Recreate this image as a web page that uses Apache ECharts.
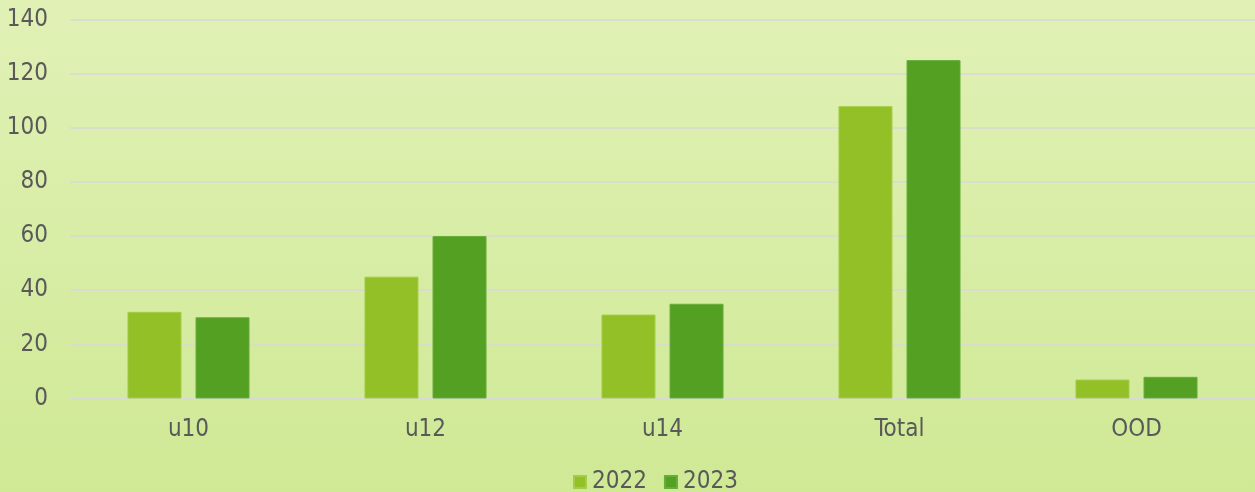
<!DOCTYPE html>
<html>
<head>
<meta charset="utf-8">
<script src="https://cdn.jsdelivr.net/npm/echarts@6/dist/echarts.min.js"></script>
<style>
  html, body { margin: 0; padding: 0; }
  #main { width: 1255px; height: 492px; }
</style>
</head>
<body>
<div id="main"></div>
<script>
const categories = ["u10", "u12", "u14", "Total", "OOD"];
const values2022 = [32, 45, 31, 108, 7];
const values2023 = [30, 60, 35, 125, 8];
const seriesNames = ["2022", "2023"];
const colors = ["#92c026", "#54a022"];

const font = "'DejaVu Sans Condensed', 'DejaVu Sans', sans-serif";
const textColor = "#595959";

let myChart = echarts.init(document.getElementById('main'));

let option = {
    backgroundColor: new echarts.graphic.LinearGradient(0, 0, 0, 1, [
        {offset: 0, color: "#e1f1b6"},
        {offset: 1, color: "#cfe995"}
    ]),
    textStyle: {fontFamily: font},
    grid: {left: 70, right: 0, top: 19.5, bottom: 93.5, containLabel: false},
    legend: {
        data: seriesNames,
        bottom: -7,
        left: 568,
        itemWidth: 12,
        itemHeight: 12,
        itemGap: 17,
        icon: 'rect',
        textStyle: {fontFamily: font, fontSize: 24, color: textColor, padding: [0, 0, 0, 1]}
    },
    xAxis: {
        type: 'category',
        data: categories,
        axisLine: {show: true, lineStyle: {color: "#d9d9d9", width: 1.5}},
        axisTick: {show: false},
        axisLabel: {fontFamily: font, fontSize: 24, color: textColor, margin: 19}
    },
    yAxis: {
        type: 'value',
        min: 0,
        max: 140,
        interval: 20,
        axisLine: {show: false},
        axisTick: {show: false},
        axisLabel: {fontFamily: font, fontSize: 24, color: textColor, margin: 22},
        splitLine: {lineStyle: {color: "#d9d9d9", width: 1.5}}
    },
    series: [
        {
            name: seriesNames[0],
            type: 'bar',
            data: values2022,
            barWidth: 54,
            barGap: '26%',
            itemStyle: {color: colors[0], borderColor: "#a3cc48", borderWidth: 1}
        },
        {
            name: seriesNames[1],
            type: 'bar',
            data: values2023,
            barWidth: 54,
            itemStyle: {color: colors[1], borderColor: "#68ad3a", borderWidth: 1}
        }
    ]
};
myChart.setOption(option);
</script>
</body>
</html>
